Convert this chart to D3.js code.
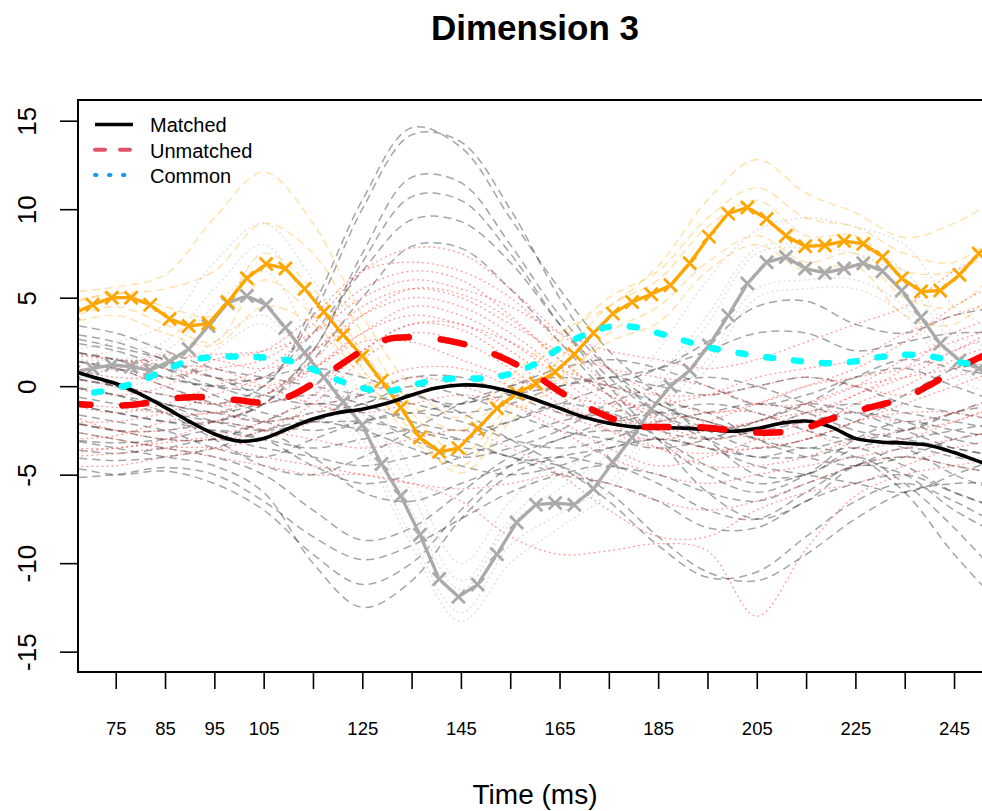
<!DOCTYPE html>
<html><head><meta charset="utf-8">
<script src="https://cdn.jsdelivr.net/npm/d3@7"></script>
<style>
body{margin:0;background:#fff}
svg{display:block}
text{font-family:"Liberation Sans",Arial,Helvetica,sans-serif;fill:#000}
</style>
</head><body>
<svg id="chart" width="982" height="811"></svg>
<script>
// ---------------- DATA ----------------
const title = "Dimension 3";
const xTitle = "Time (ms)";
const xTickValues = [75,85,95,105,115,125,135,145,155,165,175,185,195,205,215,225,235,245];
const xTickLabels = [75,85,95,105,125,145,165,185,205,225,245];
const yTickValues = [-15,-10,-5,0,5,10,15];
const legendLabels = ["Matched","Unmatched","Common"];

// sampled series (one value per EEG sample)
const sampleTimes = [66.4,70.3,74.2,78.1,82.0,85.9,89.8,93.8,97.7,101.6,105.5,109.4,113.3,117.2,121.1,125.0,128.9,132.8,136.7,140.6,144.5,148.4,152.3,156.3,160.2,164.1,168.0,171.9,175.8,179.7,183.6,187.5,191.4,195.3,199.2,203.1,207.0,210.9,214.8,218.8,222.7,226.6,230.5,234.4,238.3,242.2,246.1,250.0,253.9];
const orangeX = [4.1,4.6,5.0,5.0,4.6,3.8,3.4,3.55,4.75,6.1,6.9,6.65,5.5,4.2,2.9,1.7,0.3,-1.2,-2.9,-3.7,-3.5,-2.4,-1.25,-0.4,0.15,0.8,1.8,3.0,4.1,4.75,5.2,5.7,6.95,8.45,9.75,10.1,9.45,8.5,7.9,7.95,8.2,8.05,7.3,6.1,5.35,5.4,6.3,7.5,8.5];
const greyX = [0.8,1.0,1.2,1.1,0.9,1.4,2.1,3.4,4.7,5.1,4.6,3.3,1.9,0.5,-0.9,-2.2,-4.4,-6.2,-8.4,-10.9,-11.9,-11.2,-9.5,-7.7,-6.7,-6.6,-6.7,-5.8,-4.3,-2.9,-1.3,0.0,0.9,2.3,4.0,5.8,7.0,7.3,6.65,6.4,6.65,6.95,6.5,5.4,3.9,2.4,1.45,1.0,0.8];

// main averaged series (5 ms grid)
const mainTimes = [65,70,75,80,85,90,95,100,105,110,115,120,125,130,135,140,145,150,155,160,165,170,175,180,185,190,195,200,205,210,215,220,225,230,235,240,245,250,255];
const matched = [0.95,0.55,0.15,-0.45,-1.2,-2.0,-2.7,-3.1,-2.95,-2.4,-1.85,-1.5,-1.3,-0.97,-0.5,-0.1,0.07,0.0,-0.3,-0.75,-1.25,-1.75,-2.1,-2.3,-2.33,-2.37,-2.45,-2.55,-2.4,-2.1,-1.97,-2.3,-2.95,-3.15,-3.22,-3.35,-3.75,-4.25,-4.7];
const unmatched = [-0.95,-1.05,-1.1,-1.0,-0.75,-0.62,-0.65,-0.8,-0.92,-0.6,0.15,1.1,2.0,2.65,2.76,2.68,2.42,2.0,1.4,0.65,-0.3,-1.1,-1.75,-2.25,-2.3,-2.3,-2.35,-2.5,-2.62,-2.6,-2.35,-1.85,-1.42,-1.06,-0.65,0.05,0.9,1.6,2.2];
const common = [-0.42,-0.38,-0.12,0.3,0.9,1.45,1.65,1.67,1.62,1.45,0.95,0.35,-0.1,-0.3,0.05,0.35,0.45,0.45,0.7,1.25,2.15,2.9,3.35,3.35,3.0,2.6,2.2,1.95,1.7,1.55,1.38,1.3,1.4,1.65,1.78,1.7,1.4,1.2,1.0];

// individual curves (10 ms grid)
const bgTimes = [65,75,85,95,105,115,125,135,145,155,165,175,185,195,205,215,225,235,245,255];
const matchedTrials = [
  [1.5,1.0,0.5,0.0,0.0,4.5,10.5,14.6,13.5,9.5,5.5,2.0,-0.5,-3.0,-5.0,-5.0,-3.5,-3.0,-2.5,-2.0],
  [0.5,0.0,-0.5,-1.0,0.0,4.0,10.0,14.2,13.8,10.0,5.0,1.0,-1.5,-3.0,-4.0,-3.5,-4.0,-6.0,-9.5,-12.5],
  [2.0,1.5,1.0,0.0,-0.5,2.0,7.5,11.8,11.5,8.0,4.0,1.0,-1.0,-2.0,-2.5,-2.0,-1.5,-2.0,-3.0,-3.5],
  [-1.0,-1.5,-2.0,-2.0,-1.0,2.0,7.0,10.7,10.5,7.5,3.5,0.0,-3.0,-6.0,-7.5,-6.5,-4.5,-4.0,-4.5,-5.0],
  [3.0,2.5,1.5,0.5,0.5,3.0,6.5,9.4,9.3,7.0,3.5,0.5,-1.5,-2.5,-2.0,-1.0,-1.5,-2.5,-3.5,-4.0],
  [-2.0,-2.5,-2.5,-2.0,-1.0,1.5,5.0,7.9,7.8,5.5,2.5,-0.5,-3.0,-5.0,-6.0,-5.0,-3.0,-2.0,-2.5,-3.0],
  [-3.0,-3.5,-4.0,-4.5,-6.0,-10.0,-12.5,-11.0,-7.5,-5.0,-4.0,-3.5,-3.0,-3.5,-4.0,-4.0,-3.5,-4.5,-6.0,-7.0],
  [-4.5,-5.0,-4.8,-5.5,-7.0,-9.5,-11.2,-10.0,-7.0,-4.5,-3.0,-2.5,-3.0,-4.5,-5.5,-5.0,-4.0,-5.5,-8.0,-11.0],
  [-5.2,-5.0,-4.6,-5.0,-6.5,-8.5,-9.8,-9.0,-7.5,-6.0,-5.0,-4.5,-5.5,-7.0,-7.5,-6.0,-4.5,-5.0,-7.0,-8.5],
  [-2.5,-3.0,-3.5,-4.0,-5.0,-7.0,-8.7,-8.0,-6.0,-4.0,-3.0,-2.0,-1.5,-2.0,-3.0,-3.5,-3.0,-3.5,-5.0,-6.0],
  [-1.0,-1.5,-2.0,-2.5,-3.0,-3.5,-3.0,-2.5,-3.0,-4.0,-4.5,-6.0,-8.5,-10.5,-11.0,-9.5,-7.5,-6.0,-5.5,-5.5],
  [0.5,0.0,-1.0,-2.0,-2.5,-2.0,-1.0,-0.5,-1.5,-3.0,-4.5,-6.5,-9.0,-10.8,-10.5,-8.5,-6.5,-5.5,-6.5,-8.0],
  [-3.5,-3.8,-3.5,-3.0,-3.5,-4.0,-4.5,-4.0,-3.5,-4.0,-5.0,-5.5,-6.5,-8.0,-8.0,-6.5,-5.5,-5.0,-6.0,-7.0],
  [3.5,3.0,2.0,1.0,0.5,0.0,-0.5,-1.0,-1.5,-1.0,0.0,0.5,0.0,-0.5,0.0,0.5,0.0,-1.0,-1.5,-2.0],
  [2.5,2.0,1.0,-0.5,-1.5,-2.0,-2.0,-2.5,-3.0,-2.0,-1.0,-1.5,-2.5,-3.0,-2.5,-1.5,-1.0,-1.5,-2.0,-2.5],
  [-1.5,-2.0,-2.5,-3.5,-4.0,-3.0,-2.0,-1.5,-2.0,-3.0,-3.5,-3.0,-2.0,-1.5,-1.0,-1.5,-2.5,-3.0,-3.5,-4.0],
  [1.0,0.0,-1.0,-1.5,-2.0,-1.5,-1.0,0.0,-0.5,-1.5,-2.5,-3.0,-3.5,-3.0,-2.0,-1.0,0.5,1.5,1.0,0.5],
  [-3.0,-3.2,-3.0,-2.5,-3.0,-4.5,-5.5,-5.0,-4.0,-3.0,-2.0,-1.5,-1.0,-1.5,-3.0,-4.0,-4.5,-4.0,-3.0,-2.5],
  [2.0,1.5,0.5,0.0,0.5,1.0,0.5,-0.5,-1.0,0.0,1.0,1.5,1.0,0.0,-1.0,-0.5,0.5,1.0,0.0,-1.0],
  [-0.5,-1.0,-1.5,-2.0,-2.5,-4.0,-6.0,-6.5,-5.5,-4.5,-4.0,-4.5,-5.0,-6.0,-6.5,-5.5,-4.5,-3.5,-4.0,-4.5],
  [0.0,-0.5,-1.0,-1.5,-1.0,-0.5,-1.0,-2.0,-2.5,-2.0,-1.0,0.0,1.0,2.5,4.5,4.8,3.5,3.0,4.0,4.5],
  [1.5,1.0,0.0,-1.0,-2.0,-2.5,-2.0,-1.5,-1.0,-0.5,0.0,0.5,1.0,2.0,3.0,3.0,2.0,2.5,3.0,3.0],
  [2.8,2.2,1.5,0.5,-0.5,-1.0,-0.5,0.5,0.5,-0.5,-1.5,-2.0,-1.5,-1.0,-1.5,-2.5,-3.0,-2.5,-1.5,-1.0],
  [-2.0,-2.5,-3.0,-3.0,-2.0,-1.0,-1.5,-3.0,-4.0,-3.5,-2.5,-1.0,0.0,0.5,0.0,-1.0,-2.0,-2.5,-1.5,-0.5],
  [0.0,-0.5,-1.5,-3.0,-4.5,-5.0,-4.0,-2.5,-1.0,0.0,0.5,0.0,-1.0,-2.5,-3.5,-3.0,-2.0,-0.5,1.0,2.0],
  [-4.0,-4.2,-4.0,-3.5,-2.5,-2.0,-2.5,-3.5,-4.5,-5.0,-4.5,-3.5,-3.0,-3.5,-4.5,-5.0,-5.5,-6.0,-5.0,-4.0]
];
const unmatchedTrials = [
  [1.0,0.5,0.5,1.0,1.5,3.5,6.5,7.8,7.5,5.5,3.0,1.0,-0.5,-1.5,-1.0,0.0,1.0,2.5,4.5,6.0],
  [0.0,-0.5,0.0,1.5,2.0,4.0,6.5,7.0,6.5,5.0,2.5,0.0,-2.0,-3.0,-2.5,-1.5,-0.5,1.0,3.0,4.0],
  [-1.0,-1.5,-1.0,0.0,1.0,3.0,5.5,6.5,6.0,4.0,1.5,-0.5,-1.5,-2.0,-3.0,-2.5,-1.0,0.0,1.5,2.5],
  [2.0,1.5,1.5,1.8,2.0,3.0,5.0,6.0,5.5,4.5,3.0,2.0,1.5,1.0,1.5,2.5,3.5,4.5,6.5,8.0],
  [-2.0,-2.0,-1.5,-0.5,0.5,2.0,4.0,5.0,4.5,3.0,1.0,-1.0,-2.5,-3.5,-3.5,-3.0,-2.0,-1.0,0.0,1.0],
  [-3.5,-3.5,-3.0,-2.0,-1.0,1.0,3.0,4.0,3.5,2.5,1.0,0.0,-0.5,-0.5,0.0,0.5,0.0,-0.5,0.5,1.5],
  [1.5,1.0,0.0,-1.0,-1.0,0.0,2.0,3.5,3.5,2.0,0.0,-2.0,-3.5,-4.5,-4.5,-4.0,-3.0,-2.5,-2.0,-1.0],
  [-4.5,-4.5,-4.0,-3.5,-3.0,-2.0,-0.5,0.5,0.0,-1.0,-2.5,-4.0,-5.0,-5.5,-5.0,-4.5,-4.0,-3.5,-3.0,-2.5],
  [-2.5,-3.0,-3.5,-4.0,-4.5,-5.0,-5.0,-5.5,-6.5,-8.5,-9.5,-9.3,-8.9,-9.3,-13.0,-9.2,-6.2,-5.0,-4.5,-4.0],
  [-4.0,-3.8,-3.5,-3.5,-4.0,-4.5,-5.0,-5.5,-5.8,-5.5,-5.0,-5.5,-6.5,-7.0,-6.5,-5.5,-4.5,-4.0,-4.5,-5.0],
  [-1.5,-2.5,-2.5,-2.0,-2.5,-3.0,-3.5,-3.0,-2.5,-3.5,-5.0,-7.0,-8.5,-8.5,-7.0,-6.0,-5.5,-4.5,-3.5,-3.0],
  [0.5,0.0,-0.5,-1.0,-0.5,1.0,2.5,2.5,1.5,0.5,-0.5,-1.0,-1.0,-0.5,0.5,1.0,1.5,3.0,4.0,5.0],
  [-3.0,-2.8,-2.0,-1.5,-2.0,-1.5,0.0,1.0,1.0,0.0,-1.5,-2.5,-3.0,-2.5,-2.0,-1.5,-1.5,-2.0,-1.5,-0.5],
  [1.8,1.5,1.2,1.0,0.0,-1.0,-1.5,-1.0,-0.5,-1.0,-2.0,-3.5,-4.5,-4.0,-3.0,-2.0,-0.5,0.5,2.0,3.0],
  [-2.0,-2.5,-3.0,-3.0,-2.5,-1.0,1.5,3.0,2.5,1.0,-1.0,-2.0,-2.0,-1.5,-1.5,-2.5,-3.5,-3.0,-2.0,-1.0],
  [0.5,1.0,1.8,1.5,1.0,2.0,4.5,5.5,5.0,3.5,2.0,1.0,0.5,0.0,-1.0,-1.0,0.0,1.5,2.5,3.5],
  [-1.0,-1.2,-1.5,-1.5,-0.5,1.5,4.0,5.5,5.2,3.8,1.5,-0.5,-1.8,-2.5,-2.0,-1.0,0.0,0.5,1.0,1.5],
  [-3.8,-3.5,-3.2,-2.8,-2.0,-0.5,2.0,3.5,3.2,1.5,-0.5,-2.5,-3.5,-3.8,-3.5,-3.0,-2.0,-1.5,-1.5,-2.0],
  [0.8,1.2,1.0,0.5,0.0,1.0,3.0,4.5,4.0,2.5,0.5,-1.5,-2.5,-2.0,-1.0,0.0,0.5,1.0,2.0,3.5]
];
const orangeTrials = [
  [5.3,5.6,6.3,9.5,12.1,9.2,4.0,0.0,-1.8,0.5,3.0,4.5,6.8,10.5,12.8,10.9,9.8,8.4,9.2,10.8],
  [4.8,5.2,5.5,6.5,9.2,7.5,3.0,-1.0,-2.5,0.0,2.5,5.0,6.5,9.5,11.2,9.5,9.0,7.5,7.0,9.0],
  [3.8,4.5,3.5,2.5,6.0,4.0,1.0,-3.0,-4.5,-1.5,0.0,3.0,4.5,7.0,8.5,7.0,7.5,5.0,4.5,7.0],
  [3.5,4.0,3.0,2.3,4.5,3.5,0.5,-2.5,-4.9,-2.0,0.5,2.5,3.6,6.5,8.0,6.5,6.8,4.0,3.5,6.0],
  [4.5,5.3,4.5,4.0,7.5,5.5,2.0,-1.5,-3.8,-1.0,1.5,4.5,6.0,9.0,10.5,8.5,8.5,6.5,6.5,8.0]
];
const greyTrials = [
  [2.0,2.5,3.5,7.0,9.2,6.0,1.0,-5.0,-10.0,-6.5,-4.0,-1.5,2.0,6.0,8.8,9.5,9.0,8.0,4.5,3.0],
  [1.5,2.0,2.5,5.5,8.0,4.0,-0.5,-6.0,-11.0,-7.5,-5.0,-3.0,0.5,4.0,7.8,8.0,8.0,6.5,3.0,2.0],
  [0.5,0.5,0.5,2.0,3.5,0.0,-3.5,-9.0,-13.3,-10.0,-8.0,-6.0,-2.0,1.0,5.0,5.5,5.5,4.0,0.5,-0.5],
  [0.0,0.0,0.5,2.5,4.0,0.5,-3.0,-8.5,-12.8,-9.0,-7.2,-5.5,-1.5,1.5,5.5,6.0,6.0,4.5,1.0,0.0],
  [1.5,1.5,2.0,4.5,6.5,2.5,-1.5,-7.0,-11.5,-7.8,-5.8,-3.8,0.0,3.5,7.5,7.8,7.5,6.0,2.5,1.5]
];

// ---------------- LAYOUT ----------------
const plot = {left: 78, top: 100, right: 992, bottom: 672};
const svg = d3.select("#chart");
const x = d3.scaleLinear().domain([67.35, 252.7]).range([plot.left, plot.right]);
const y = d3.scaleLinear().domain([-16.15, 16.17]).range([plot.bottom, plot.top]);

svg.append("defs").append("clipPath").attr("id","clip")
  .append("rect").attr("x",plot.left).attr("y",plot.top)
  .attr("width",plot.right-plot.left).attr("height",plot.bottom-plot.top);

const g = svg.append("g").attr("clip-path","url(#clip)");

function drawSet(times, sets, stroke, width, dash) {
  const line = d3.line().x((d,i)=>x(times[i])).y(d=>y(d)).curve(d3.curveCatmullRom.alpha(0.5));
  g.append("g").selectAll("path").data(sets).join("path")
    .attr("d", line).attr("fill","none")
    .attr("stroke", stroke).attr("stroke-width", width)
    .attr("stroke-dasharray", dash);
}

// background individual curves
drawSet(bgTimes, matchedTrials, "rgba(40,40,40,0.42)", 1.5, "8,5");
drawSet(bgTimes, unmatchedTrials, "rgba(255,0,0,0.38)", 1.3, "2,3");
drawSet(bgTimes, greyTrials, "rgba(170,170,170,0.35)", 1.5, "2,3");
drawSet(bgTimes, orangeTrials, "rgba(255,165,0,0.3)", 1.6, "8,5");

// type "b" series (lines with gaps + X markers)
function drawTypeB(vals, color, width) {
  const pts = sampleTimes.map((t,i)=>[x(t), y(vals[i])]);
  const segs = [];
  for (let i=0;i<pts.length-1;i++){
    const [x0,y0]=pts[i],[x1,y1]=pts[i+1];
    const dx=x1-x0, dy=y1-y0, len=Math.hypot(dx,dy), gap=3.5;
    if (len>2*gap) segs.push([[x0+dx/len*gap,y0+dy/len*gap],[x1-dx/len*gap,y1-dy/len*gap]]);
  }
  const grp = g.append("g");
  grp.selectAll("line").data(segs).join("line")
    .attr("x1",d=>d[0][0]).attr("y1",d=>d[0][1]).attr("x2",d=>d[1][0]).attr("y2",d=>d[1][1])
    .attr("stroke",color).attr("stroke-width",width).attr("stroke-linecap","round");
  const s = 6.5;
  grp.selectAll("path").data(pts).join("path")
    .attr("d",d=>`M${d[0]-s},${d[1]-s}L${d[0]+s},${d[1]+s}M${d[0]-s},${d[1]+s}L${d[0]+s},${d[1]-s}`)
    .attr("stroke",color).attr("stroke-width",2.8).attr("fill","none");
}
drawTypeB(greyX, "#AAAAAA", 3.3);
drawTypeB(orangeX, "#FFA500", 3.3);

// main averaged series
const mainLine = d3.line().x((d,i)=>x(mainTimes[i])).y(d=>y(d)).curve(d3.curveCatmullRom.alpha(0.5));
g.append("path").attr("d", mainLine(matched)).attr("fill","none")
  .attr("stroke","#000").attr("stroke-width",3.6).attr("stroke-linecap","round");
g.append("path").attr("d", mainLine(unmatched)).attr("fill","none")
  .attr("stroke","#FF0000").attr("stroke-width",6.5).attr("stroke-linecap","round")
  .attr("stroke-dasharray","24,32");
g.append("path").attr("d", mainLine(common)).attr("fill","none")
  .attr("stroke","#00FFFF").attr("stroke-width",6.5).attr("stroke-linecap","round")
  .attr("stroke-dasharray","7,21");

// plot box
svg.append("rect").attr("x",plot.left).attr("y",plot.top)
  .attr("width",plot.right-plot.left).attr("height",plot.bottom-plot.top)
  .attr("fill","none").attr("stroke","#000").attr("stroke-width",2);

// y axis
const yAxis = svg.append("g").attr("transform",`translate(${plot.left},0)`)
  .call(d3.axisLeft(y).tickValues(yTickValues).tickSize(18).tickSizeOuter(0).tickFormat(d=>String(d)));
yAxis.select(".domain").remove();
yAxis.selectAll(".tick line").attr("stroke","#000").attr("stroke-width",1.6);
yAxis.selectAll(".tick text")
  .attr("x",null).attr("dy",null).attr("text-anchor","middle")
  .attr("transform",`translate(${36-plot.left},0) rotate(-90)`)
  .style("font-size","26px").style("font-family",'"Liberation Sans",Arial,sans-serif').attr("fill","#000");

// x axis
const xAxis = svg.append("g").attr("transform",`translate(0,${plot.bottom})`)
  .call(d3.axisBottom(x).tickValues(xTickValues).tickSize(17).tickSizeOuter(0)
    .tickFormat(d=>xTickLabels.includes(d)?String(d):""));
xAxis.select(".domain").remove();
xAxis.selectAll(".tick line").attr("stroke","#000").attr("stroke-width",1.6);
xAxis.selectAll(".tick text").attr("y",63).attr("dy",null)
  .style("font-size","18.5px").style("font-family",'"Liberation Sans",Arial,sans-serif').attr("fill","#000");

// titles
svg.append("text").attr("x",535).attr("y",40).attr("text-anchor","middle")
  .style("font-size","35px").style("font-weight","bold").text(title);
svg.append("text").attr("x",535).attr("y",804).attr("text-anchor","middle")
  .style("font-size","28px").text(xTitle);

// legend
const legendStyles = [
  {color:"#000000", dash:null, width:3.6},
  {color:"#DF536B", dash:"10,15", width:4},
  {color:"#2297E6", dash:"1.5,12.5", width:4}
];
const leg = svg.append("g");
legendLabels.forEach((lab,i)=>{
  const yy = 124.5 + i*25.2;
  leg.append("line").attr("x1",95).attr("x2",133).attr("y1",yy).attr("y2",yy)
    .attr("stroke",legendStyles[i].color).attr("stroke-width",legendStyles[i].width)
    .attr("stroke-linecap", i===0 ? "butt" : "round")
    .attr("stroke-dasharray",legendStyles[i].dash);
  leg.append("text").attr("x",150).attr("y",yy+7.8).style("font-size","20px").text(lab);
});
</script>
</body></html>
